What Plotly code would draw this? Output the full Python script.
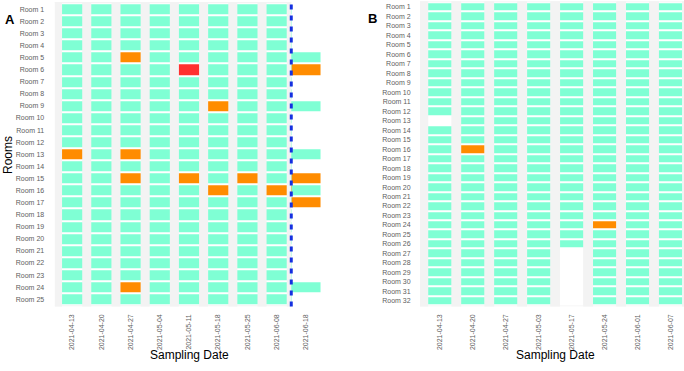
import plotly.graph_objects as go

# ---------------- data ----------------
# status codes: 0 = negative (teal), 1 = positive (orange), 2 = high (red), None = not sampled
a_dates = ["2021-04-13", "2021-04-20", "2021-04-27", "2021-05-04", "2021-05-11",
           "2021-05-18", "2021-05-25", "2021-06-08", "2021-06-18"]
a_rooms = ["Room 1", "Room 2", "Room 3", "Room 4", "Room 5", "Room 6", "Room 7", "Room 8",
           "Room 9", "Room 10", "Room 11", "Room 12", "Room 13", "Room 14", "Room 15", "Room 16",
           "Room 17", "Room 18", "Room 19", "Room 20", "Room 21", "Room 22", "Room 23", "Room 24",
           "Room 25"]
a_0413 = [0, 0, 0, 0, 0, 0, 0, 0, 0, 0, 0, 0, 1, 0, 0, 0, 0, 0, 0, 0, 0, 0, 0, 0, 0]
a_0420 = [0, 0, 0, 0, 0, 0, 0, 0, 0, 0, 0, 0, 0, 0, 0, 0, 0, 0, 0, 0, 0, 0, 0, 0, 0]
a_0427 = [0, 0, 0, 0, 1, 0, 0, 0, 0, 0, 0, 0, 1, 0, 1, 0, 0, 0, 0, 0, 0, 0, 0, 1, 0]
a_0504 = [0, 0, 0, 0, 0, 0, 0, 0, 0, 0, 0, 0, 0, 0, 0, 0, 0, 0, 0, 0, 0, 0, 0, 0, 0]
a_0511 = [0, 0, 0, 0, 0, 2, 0, 0, 0, 0, 0, 0, 0, 0, 1, 0, 0, 0, 0, 0, 0, 0, 0, 0, 0]
a_0518 = [0, 0, 0, 0, 0, 0, 0, 0, 1, 0, 0, 0, 0, 0, 0, 1, 0, 0, 0, 0, 0, 0, 0, 0, 0]
a_0525 = [0, 0, 0, 0, 0, 0, 0, 0, 0, 0, 0, 0, 0, 0, 1, 0, 0, 0, 0, 0, 0, 0, 0, 0, 0]
a_0608 = [0, 0, 0, 0, 0, 0, 0, 0, 0, 0, 0, 0, 0, 0, 0, 1, 0, 0, 0, 0, 0, 0, 0, 0, 0]
a_0618 = [None, None, None, None, 0, 1, None, None, 0, None, None, None, 0, None, 1,
          0, 1, None, None, None, None, None, None, 0, None]
a_cols = [a_0413, a_0420, a_0427, a_0504, a_0511, a_0518, a_0525, a_0608, a_0618]

b_dates = ["2021-04-13", "2021-04-20", "2021-04-27", "2021-05-03",
           "2021-05-17", "2021-05-24", "2021-06-01", "2021-06-07"]
b_rooms = ["Room 1", "Room 2", "Room 3", "Room 4", "Room 5", "Room 6", "Room 7", "Room 8",
           "Room 9", "Room 10", "Room 11", "Room 12", "Room 13", "Room 14", "Room 15", "Room 16",
           "Room 17", "Room 18", "Room 19", "Room 20", "Room 21", "Room 22", "Room 23", "Room 24",
           "Room 25", "Room 26", "Room 27", "Room 28", "Room 29", "Room 30", "Room 31", "Room 32"]
b_0413 = [0, 0, 0, 0, 0, 0, 0, 0, 0, 0, 0, 0, None, 0, 0, 0,
          0, 0, 0, 0, 0, 0, 0, 0, 0, 0, 0, 0, 0, 0, 0, 0]
b_0420 = [0, 0, 0, 0, 0, 0, 0, 0, 0, 0, 0, 0, 0, 0, 0, 1,
          0, 0, 0, 0, 0, 0, 0, 0, 0, 0, 0, 0, 0, 0, 0, 0]
b_0427 = [0, 0, 0, 0, 0, 0, 0, 0, 0, 0, 0, 0, 0, 0, 0, 0,
          0, 0, 0, 0, 0, 0, 0, 0, 0, 0, 0, 0, 0, 0, 0, 0]
b_0503 = [0, 0, 0, 0, 0, 0, 0, 0, 0, 0, 0, 0, 0, 0, 0, 0,
          0, 0, 0, 0, 0, 0, 0, 0, 0, 0, 0, 0, 0, 0, 0, 0]
b_0517 = [0, 0, 0, 0, 0, 0, 0, 0, 0, 0, 0, 0, 0, 0, 0, 0,
          0, 0, 0, 0, 0, 0, 0, 0, 0, 0, None, None, None, None, None, None]
b_0524 = [0, 0, 0, 0, 0, 0, 0, 0, 0, 0, 0, 0, 0, 0, 0, 0,
          0, 0, 0, 0, 0, 0, 0, 1, 0, 0, 0, 0, 0, 0, 0, 0]
b_0601 = [0, 0, 0, 0, 0, 0, 0, 0, 0, 0, 0, 0, 0, 0, 0, 0,
          0, 0, 0, 0, 0, 0, 0, 0, 0, 0, 0, 0, 0, 0, 0, 0]
b_0607 = [0, 0, 0, 0, 0, 0, 0, 0, 0, 0, 0, 0, 0, 0, 0, 0,
          0, 0, 0, 0, 0, 0, 0, 0, 0, 0, 0, 0, 0, 0, 0, 0]
b_cols = [b_0413, b_0420, b_0427, b_0503, b_0517, b_0524, b_0601, b_0607]

# ---------------- style ----------------
TEAL = "#7FFFD4"
ORANGE = "#FF8C00"
RED = "#FF3030"
GREY = "#F3F3F3"
TICK = "#5E5E5E"
FONT = "Liberation Sans, Arial, sans-serif"
W, H = 684, 371

colorscale = [[0, TEAL], [1 / 3, TEAL], [1 / 3, ORANGE], [2 / 3, ORANGE], [2 / 3, RED], [1, RED]]


def to_z(cols):
    nrow = len(cols[0])
    return [[(c[r] if c[r] is not None else float("nan")) for c in cols] for r in range(nrow)]


fig = go.Figure()
fig.add_trace(go.Heatmap(x=a_dates, y=a_rooms, z=to_z(a_cols), xaxis="x", yaxis="y",
                         colorscale=colorscale, zmin=-0.5, zmax=2.5, showscale=False,
                         ygap=2, xgap=0, hoverongaps=False))
fig.add_trace(go.Heatmap(x=b_dates, y=b_rooms, z=to_z(b_cols), xaxis="x2", yaxis="y2",
                         colorscale=colorscale, zmin=-0.5, zmax=2.5, showscale=False,
                         ygap=2, xgap=0, hoverongaps=False))

# panel geometry (pixels)
a_left, a_right = 54.6, 323.4
b_left, b_right = 420.0, 684.0
p_top_a, p_top_b, p_bot = 2.0, 1.3, 306.5

ax_common = dict(type="category", showgrid=False, zeroline=False, showline=False,
                 automargin=False, tickmode="array",
                 ticks="outside", ticklen=4, tickcolor="rgba(0,0,0,0)",
                 tickfont=dict(size=7, color=TICK, family=FONT), fixedrange=True)

nA, nB = len(a_dates), len(b_dates)
rA, rB = len(a_rooms), len(b_rooms)

fig.update_layout(
    width=W, height=H,
    margin=dict(l=0, r=0, t=0, b=0, autoexpand=False),
    paper_bgcolor="white", plot_bgcolor="white",
    font=dict(family=FONT),
    xaxis=dict(ax_common, domain=[a_left / W, a_right / W], range=[-0.6, nA - 1 + 0.6],
               tickvals=a_dates, ticktext=a_dates, tickangle=-90, anchor="y"),
    yaxis=dict(ax_common, domain=[1 - p_bot / H, 1 - p_top_a / H], range=[rA - 1 + 0.6, -0.6],
               tickvals=a_rooms, ticktext=a_rooms, anchor="x", ticklen=8),
    xaxis2=dict(ax_common, domain=[b_left / W, b_right / W], range=[-0.6, nB - 1 + 0.41],
                tickvals=b_dates, ticktext=b_dates, tickangle=-90, anchor="y2"),
    yaxis2=dict(ax_common, domain=[1 - p_bot / H, 1 - p_top_b / H], range=[rB - 1 + 0.6, -0.6],
                tickvals=b_rooms, ticktext=b_rooms, anchor="x2", ticklen=7),
    showlegend=False,
)

shapes = []


def grey_rect(xref, yref, x0, x1, y0, y1):
    shapes.append(dict(type="rect", xref=xref, yref=yref, x0=x0, x1=x1, y0=y0, y1=y1,
                       fillcolor=GREY, line=dict(width=0), layer="above"))


# panel A background (grey up to the dashed divider)
hwA = 0.345
cut = nA - 1.5  # divider between 2021-06-08 and 2021-06-18
grey_rect("x", "y domain", -0.6, -hwA, 0, 1)
for i in range(nA - 2):
    grey_rect("x", "y domain", i + hwA, i + 1 - hwA, 0, 1)
grey_rect("x", "y domain", nA - 2 + hwA, cut, 0, 1)
grey_rect("x", "y", -0.6, cut, -0.6, -0.5)
grey_rect("x", "y", -0.6, cut, rA - 0.5, rA - 0.4)

# panel B background
hwB = 0.35
grey_rect("x2", "y2 domain", -0.6, -hwB, 0, 1)
for i in range(nB - 1):
    grey_rect("x2", "y2 domain", i + hwB, i + 1 - hwB, 0, 1)
grey_rect("x2", "y2 domain", nB - 1 + hwB, nB - 1 + 0.6, 0, 1)
grey_rect("x2", "y2", -0.6, nB - 1 + 0.6, -0.6, -0.5)
grey_rect("x2", "y2", -0.6, nB - 1 + 0.6, rB - 0.5, rB - 0.4)

# dashed divider
shapes.append(dict(type="line", xref="x", yref="y domain", x0=cut, x1=cut, y0=0, y1=1,
                   line=dict(color="#1530E0", width=3, dash="5px,6px"), layer="above"))

fig.update_layout(shapes=shapes)

annotations = [
    dict(text="Rooms", x=8 / W, y=1 - 155 / H, textangle=-90, showarrow=False,
         xref="paper", yref="paper", xanchor="center", yanchor="middle",
         font=dict(size=12, color="black", family=FONT)),
    dict(text="Sampling Date", x=189 / W, y=1 - 355 / H, showarrow=False,
         xref="paper", yref="paper", xanchor="center", yanchor="middle",
         font=dict(size=12, color="black", family=FONT)),
    dict(text="Sampling Date", x=555 / W, y=1 - 355 / H, showarrow=False,
         xref="paper", yref="paper", xanchor="center", yanchor="middle",
         font=dict(size=12, color="black", family=FONT)),
    dict(text="<b>A</b>", x=10 / W, y=1 - 19 / H, showarrow=False,
         xref="paper", yref="paper", xanchor="center", yanchor="middle",
         font=dict(size=13, color="black", family=FONT)),
    dict(text="<b>B</b>", x=373 / W, y=1 - 18.5 / H, showarrow=False,
         xref="paper", yref="paper", xanchor="center", yanchor="middle",
         font=dict(size=13, color="black", family=FONT)),
]
fig.update_layout(annotations=annotations)

fig.write_html("out.html", config={"displayModeBar": False},
               post_script="document.body.style.margin='0';document.body.style.overflow='hidden';")
